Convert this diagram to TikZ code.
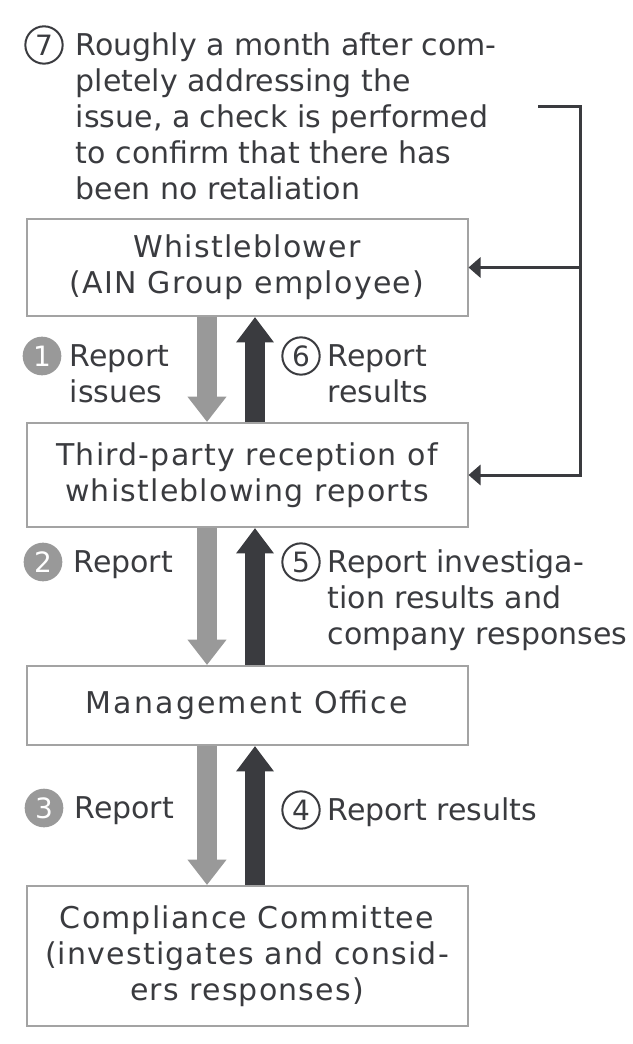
\documentclass[tikz,border=0pt]{standalone}
\usepackage{fontspec}
\setmainfont{DejaVu Sans}
\newfontfamily\espace[LetterSpace=4]{DejaVu Sans}
\newfontfamily\espacelarge[LetterSpace=7]{DejaVu Sans}
\usetikzlibrary{positioning,arrows.meta}
\definecolor{encre}{HTML}{3A3B3F}
\definecolor{trait}{HTML}{A3A3A3}
\definecolor{grisclair}{HTML}{999999}
\newcommand{\lignes}[1]{\begin{tabular}[t]{@{}l@{}}#1\end{tabular}}
\tikzstyle{boite}=[rectangle,draw=trait,line width=1.5pt,minimum width=330.75pt,align=center,text=encre,font=\espace\fontsize{22.5}{27}\selectfont]
\tikzstyle{etiq}=[text=encre,inner sep=0pt,font=\fontsize{22.5}{27}\selectfont]
\tikzstyle{pleine}=[circle,fill=grisclair,text=white,minimum size=29pt,inner sep=0pt,font=\fontsize{21}{21}\selectfont]
\tikzstyle{vide}=[circle,draw=encre,line width=1.5pt,text=encre,minimum size=28pt,inner sep=0pt,font=\fontsize{21}{21}\selectfont]
\tikzstyle{descend}=[draw=grisclair,line width=15pt,-{Triangle[width=28pt,length=19pt]}]
\tikzstyle{monte}=[draw=encre,line width=15pt,-{Triangle[width=27pt,length=19pt]}]
\tikzstyle{retour}=[draw=encre,line width=2.25pt,-{Triangle[width=15pt,length=9pt]}]

\begin{document}
\begin{tikzpicture}[x=0.75pt,y=-0.75pt]
\useasboundingbox (0,0) rectangle (632,1044);

\node[boite,minimum height=72.75pt] (whistle) at (247,267.5) {Whistleblower\\(AIN Group employee)};
\node[boite,minimum height=78pt] (third) [below=78.75pt of whistle] {Third-party reception of\\whistleblowing reports};
\node[boite,minimum height=59.25pt,font=\espacelarge\fontsize{22.5}{27}\selectfont] (office) [below=102.75pt of third] {Management Office};
\node[boite,minimum height=105pt] (comite) [below=104.25pt of office] {Compliance Committee\\(investigates and consid-\\ers responses)};

\node[vide] (n7) at (44,45) {7};
\node[etiq] (note) [base right=9pt of n7] {\lignes{Roughly a month after com-\\pletely addressing the\\issue, a check is performed\\to confirm that there has\\been no retaliation}};

\node[pleine] (n1) at (42,356) {1};
\node[etiq] (l1) [base right=6pt of n1] {\lignes{Report\\issues}};
\node[vide] (n6) at (301,356) {6};
\node[etiq] (l6) [base right=5pt of n6] {\lignes{Report\\results}};
\node[pleine] (n2) at (43,562) {2};
\node[etiq] (l2) [base right=8pt of n2] {Report};
\node[vide] (n5) at (301,562) {5};
\node[etiq] (l5) [base right=5pt of n5] {\lignes{Report investiga-\\tion results and\\company responses}};
\node[pleine] (n3) at (44,808) {3};
\node[etiq] (l3) [base right=8pt of n3] {Report};
\node[vide] (n4) at (301,810) {4};
\node[etiq] (l4) [base right=5pt of n4] {Report results};

\draw[descend] ([xshift=-30pt]whistle.south) -- ([xshift=-30pt]third.north);
\draw[monte] ([xshift=6pt]third.north) -- ([xshift=6pt]whistle.south);
\draw[descend] ([xshift=-30pt]third.south) -- ([xshift=-30pt]office.north);
\draw[monte] ([xshift=6pt]office.north) -- ([xshift=6pt]third.south);
\draw[descend] ([xshift=-30pt]office.south) -- ([xshift=-30pt]comite.north);
\draw[monte] ([xshift=6pt]comite.north) -- ([xshift=6pt]office.south);

\coordinate (haut) at (538,107);
\coordinate (coin) at (580,107);
\draw[retour] (haut) -- (coin) |- (third.east);
\draw[retour] (whistle.east -| coin) -- (whistle.east);

\end{tikzpicture}
\end{document}
